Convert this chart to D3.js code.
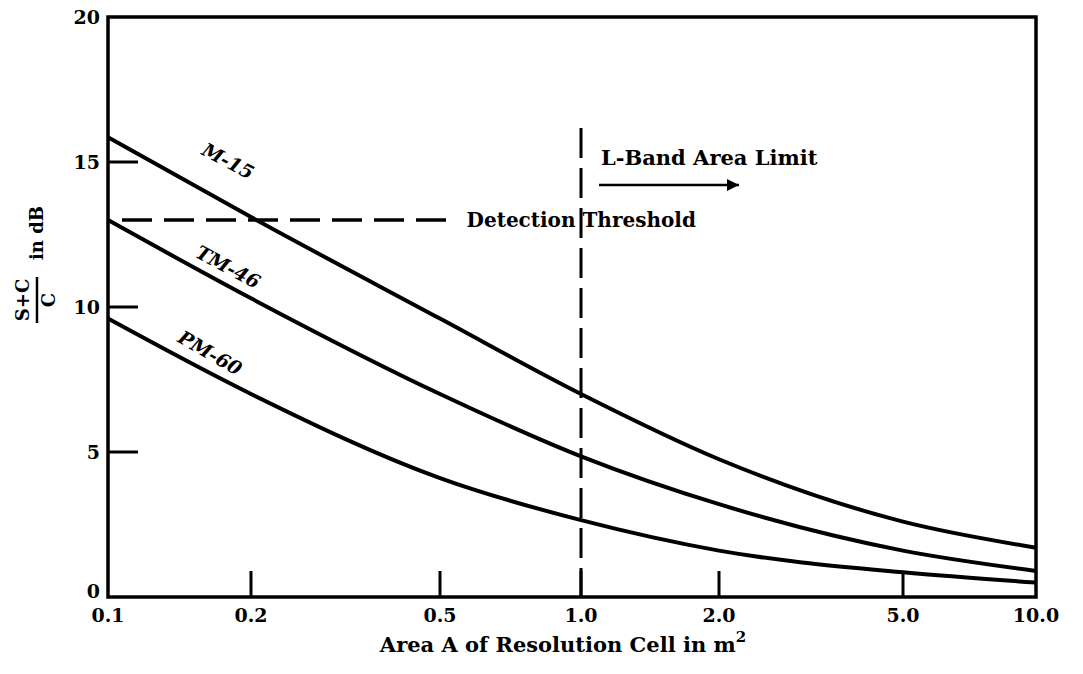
<!DOCTYPE html>
<html><head><meta charset="utf-8">
<script src="https://cdn.jsdelivr.net/npm/d3@7"></script>
<style>
body{margin:0;background:#fff;}
text{font-family:"DejaVu Serif","Liberation Serif",serif;font-weight:bold;fill:#000;}
</style></head>
<body><svg id="c" width="1083" height="674"></svg>
<script>
const areas = [0.1, 0.2, 0.5, 1.0, 2.0, 5.0, 10.0];
const m15 = [15.85, 13.1, 9.6, 7.0, 4.75, 2.6, 1.7];
const tm46 = [13.0, 10.3, 7.0, 4.85, 3.2, 1.6, 0.9];
const pm60 = [9.6, 7.0, 4.1, 2.65, 1.6, 0.85, 0.5];
const seriesNames = ["M-15", "TM-46", "PM-60"];
const xTickValues = [0.1, 0.2, 0.5, 1.0, 2.0, 5.0, 10.0];
const xTickLabels = ["0.1", "0.2", "0.5", "1.0", "2.0", "5.0", "10.0"];
const yTickValues = [0, 5, 10, 15, 20];
const threshold = 13.0;
const bandLimit = 1.0;

const svg = d3.select("#c");
const T = 17, B = 597;
// hand-drawn log axis: piecewise log scale through the printed tick positions
const x = d3.scaleLog().domain(xTickValues).range([108, 251, 440, 581, 719, 903, 1036]);
const L = x(0.1), R = x(10);
const y = d3.scaleLinear().domain([0, 20]).range([B, T]);

// frame
svg.append("rect").attr("x", L).attr("y", T).attr("width", R - L).attr("height", B - T)
  .attr("fill", "none").attr("stroke", "#000").attr("stroke-width", 3.5);

// y ticks (inward)
svg.selectAll(".yt").data(yTickValues.filter(v => v > 0 && v < 20)).enter().append("line")
  .attr("x1", L).attr("x2", L + 30).attr("y1", d => y(d)).attr("y2", d => y(d))
  .attr("stroke", "#000").attr("stroke-width", 3);
svg.selectAll(".yl").data(yTickValues).enter().append("text")
  .attr("x", L - 8).attr("y", d => y(d) - (d === 0 ? 6 : 0)).attr("dy", "0.35em").attr("text-anchor", "end")
  .attr("font-size", 19).text(d => d);

// x ticks (inward)
svg.selectAll(".xt").data(xTickValues.slice(1, -1)).enter().append("line")
  .attr("x1", d => x(d)).attr("x2", d => x(d)).attr("y1", B).attr("y2", B - 26)
  .attr("stroke", "#000").attr("stroke-width", 3);
svg.selectAll(".xl").data(xTickValues).enter().append("text")
  .attr("x", d => x(d)).attr("y", B + 25).attr("text-anchor", "middle")
  .attr("font-size", 19).text((d, i) => xTickLabels[i]);

// axis titles
const xt = svg.append("text").attr("x", 563).attr("y", 652).attr("text-anchor", "middle")
  .attr("font-size", 21);
xt.append("tspan").text("Area A of Resolution Cell in m");
xt.append("tspan").attr("dy", -10).attr("font-size", 15).text("2");

const yg = svg.append("g").attr("transform", "translate(37,300) rotate(-90)");
yg.append("text").attr("x", 0).attr("y", -8).attr("text-anchor", "middle").attr("font-size", 18).text("S+C");
yg.append("line").attr("x1", -23).attr("x2", 23).attr("y1", 0).attr("y2", 0).attr("stroke", "#000").attr("stroke-width", 2.5);
yg.append("text").attr("x", 0).attr("y", 18).attr("text-anchor", "middle").attr("font-size", 18).text("C");
yg.append("text").attr("x", 40).attr("y", 6).attr("text-anchor", "start").attr("font-size", 18).text("in dB");

// threshold label, placed so the L-band line falls in its word gap
const thr = svg.append("text").attr("y", y(threshold)).attr("dy", "0.35em").attr("font-size", 20)
  .text("Detection Threshold");
const wDet = thr.node().getSubStringLength(0, 9);
const wSp = thr.node().getSubStringLength(9, 1);
const thrX = x(bandLimit) - wDet - wSp / 2 - 2;
thr.attr("x", thrX);
svg.append("line").attr("x1", L + 14).attr("x2", thrX - 10).attr("y1", y(threshold)).attr("y2", y(threshold))
  .attr("stroke", "#000").attr("stroke-width", 3.5).attr("stroke-dasharray", "30,12");

// L-band vertical dashed
svg.append("line").attr("x1", x(bandLimit)).attr("x2", x(bandLimit)).attr("y1", 128).attr("y2", B)
  .attr("stroke", "#000").attr("stroke-width", 3).attr("stroke-dasharray", "30,10");
svg.append("text").attr("x", x(bandLimit) + 20).attr("y", 165).attr("font-size", 21).text("L-Band Area Limit");
svg.append("defs").append("marker").attr("id", "ah").attr("viewBox", "0 0 10 10")
  .attr("refX", 10).attr("refY", 5).attr("markerWidth", 28).attr("markerHeight", 12)
  .attr("orient", "auto").attr("markerUnits", "userSpaceOnUse")
  .append("path").attr("d", "M0,0 L10,5 L0,10 Z").attr("fill", "#000");
svg.append("line").attr("x1", x(bandLimit) + 18).attr("x2", x(bandLimit) + 158).attr("y1", 185).attr("y2", 185)
  .attr("stroke", "#000").attr("stroke-width", 2.5).attr("marker-end", "url(#ah)");

// curves
const line = d3.line().x(d => x(d[0])).y(d => y(d[1])).curve(d3.curveMonotoneX);
[m15, tm46, pm60].forEach(vals => {
  svg.append("path").datum(areas.map((a, i) => [a, vals[i]])).attr("d", line)
    .attr("fill", "none").attr("stroke", "#000").attr("stroke-width", 4);
});

// curve labels
const labelPos = [[228, 161, 28], [228, 267, 28], [210, 353, 30]];
seriesNames.forEach((n, i) => {
  const p = labelPos[i];
  svg.append("text").attr("transform", `translate(${p[0]},${p[1]}) rotate(${p[2]})`)
    .attr("text-anchor", "middle").attr("dy", "0.35em").attr("font-size", 19)
    .attr("font-style", "italic").text(n);
});
</script></body></html>
